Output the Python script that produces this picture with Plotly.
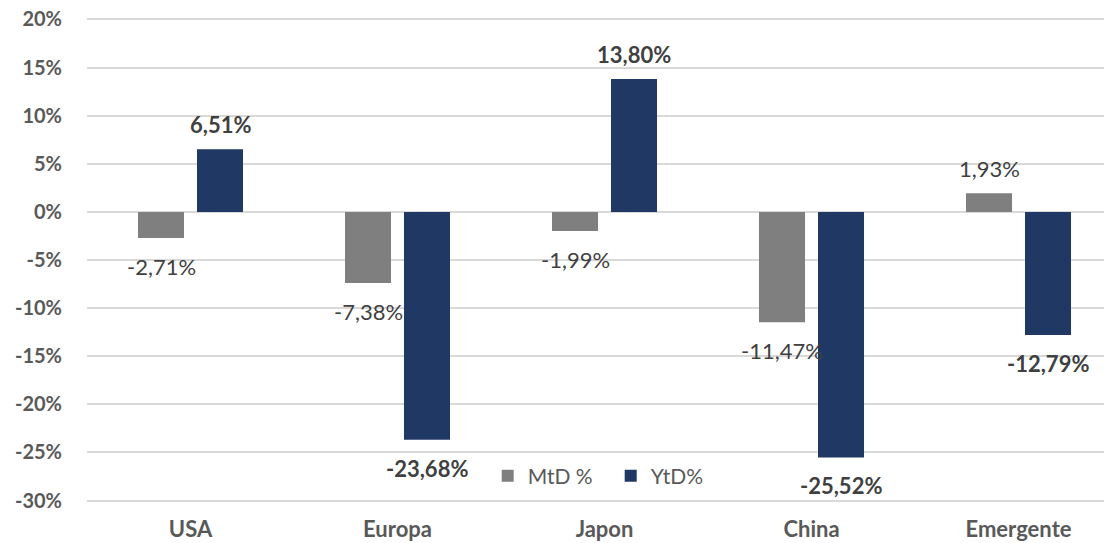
import plotly.graph_objects as go

categories = ["USA", "Europa", "Japon", "China", "Emergente"]
mtd = [-2.71, -7.38, -1.99, -11.47, 1.93]
ytd = [6.51, -23.68, 13.80, -25.52, -12.79]
series_names = ["MtD %", "YtD%"]
tick_vals = [20, 15, 10, 5, 0, -5, -10, -15, -20, -25, -30]
tick_text = ["20%", "15%", "10%", "5%", "0%", "-5%", "-10%", "-15%", "-20%", "-25%", "-30%"]

GRAY = "#7f7f7f"
NAVY = "#203864"
FONT = "Lato, Calibri, Carlito, sans-serif"


def fmt(v):
    return f"{v:.2f}".replace(".", ",") + "%"


fig = go.Figure()
fig.add_trace(go.Bar(x=categories, y=mtd, name=series_names[0], marker_color=GRAY,
                     marker_line_width=0))
fig.add_trace(go.Bar(x=categories, y=ytd, name=series_names[1], marker_color=NAVY,
                     marker_line_width=0))

annotations = []
for i, cat in enumerate(categories):
    for vals, xs, bold in ((mtd, -29.5, False), (ytd, 29.5, True)):
        v = vals[i]
        txt = fmt(v)
        if bold:
            txt = "<b>" + txt + "</b>"
        annotations.append(dict(
            x=cat, y=v, xref="x", yref="y", text=txt, showarrow=False,
            xshift=xs, yshift=(9 if v > 0 else -13),
            yanchor=("bottom" if v > 0 else "top"),
            font=dict(family=FONT, size=22, color="#404040"),
        ))

fig.update_layout(
    width=1104, height=543,
    margin=dict(l=87, r=0, t=18, b=41, autoexpand=False),
    paper_bgcolor="white", plot_bgcolor="white",
    barmode="group", bargap=0.43, bargroupgap=0.22,
    font=dict(family=FONT, size=21, color="#595959"),
    annotations=annotations,
    legend=dict(orientation="h", x=0.394, y=0.0537, xanchor="left", yanchor="middle",
                font=dict(family=FONT, size=21, color="#595959"),
                bgcolor="rgba(0,0,0,0)", itemwidth=30, entrywidth=78,
                traceorder="normal"),
    showlegend=True,
)
fig.update_yaxes(range=[-30.15, 20.15], tickvals=tick_vals, ticktext=tick_text,
                 showgrid=True, gridcolor="#d9d9d9", gridwidth=1.5,
                 zeroline=True, zerolinecolor="#d9d9d9", zerolinewidth=1.5,
                 tickfont=dict(family=FONT, size=20, color="#595959", weight="bold"),
                 ticks="", showline=False, ticklabelstandoff=24, automargin=False,
                 ticklabeloverflow="allow")
fig.update_xaxes(range=[-0.5, 4.413],
                 tickfont=dict(family=FONT, size=22, color="#595959", weight="bold"),
                 showline=False, ticks="", showgrid=False, ticklabelstandoff=12,
                 automargin=False, ticklabeloverflow="allow")

fig.write_html("out.html",
               config={"displayModeBar": False},
               post_script="document.body.style.margin='0';")
